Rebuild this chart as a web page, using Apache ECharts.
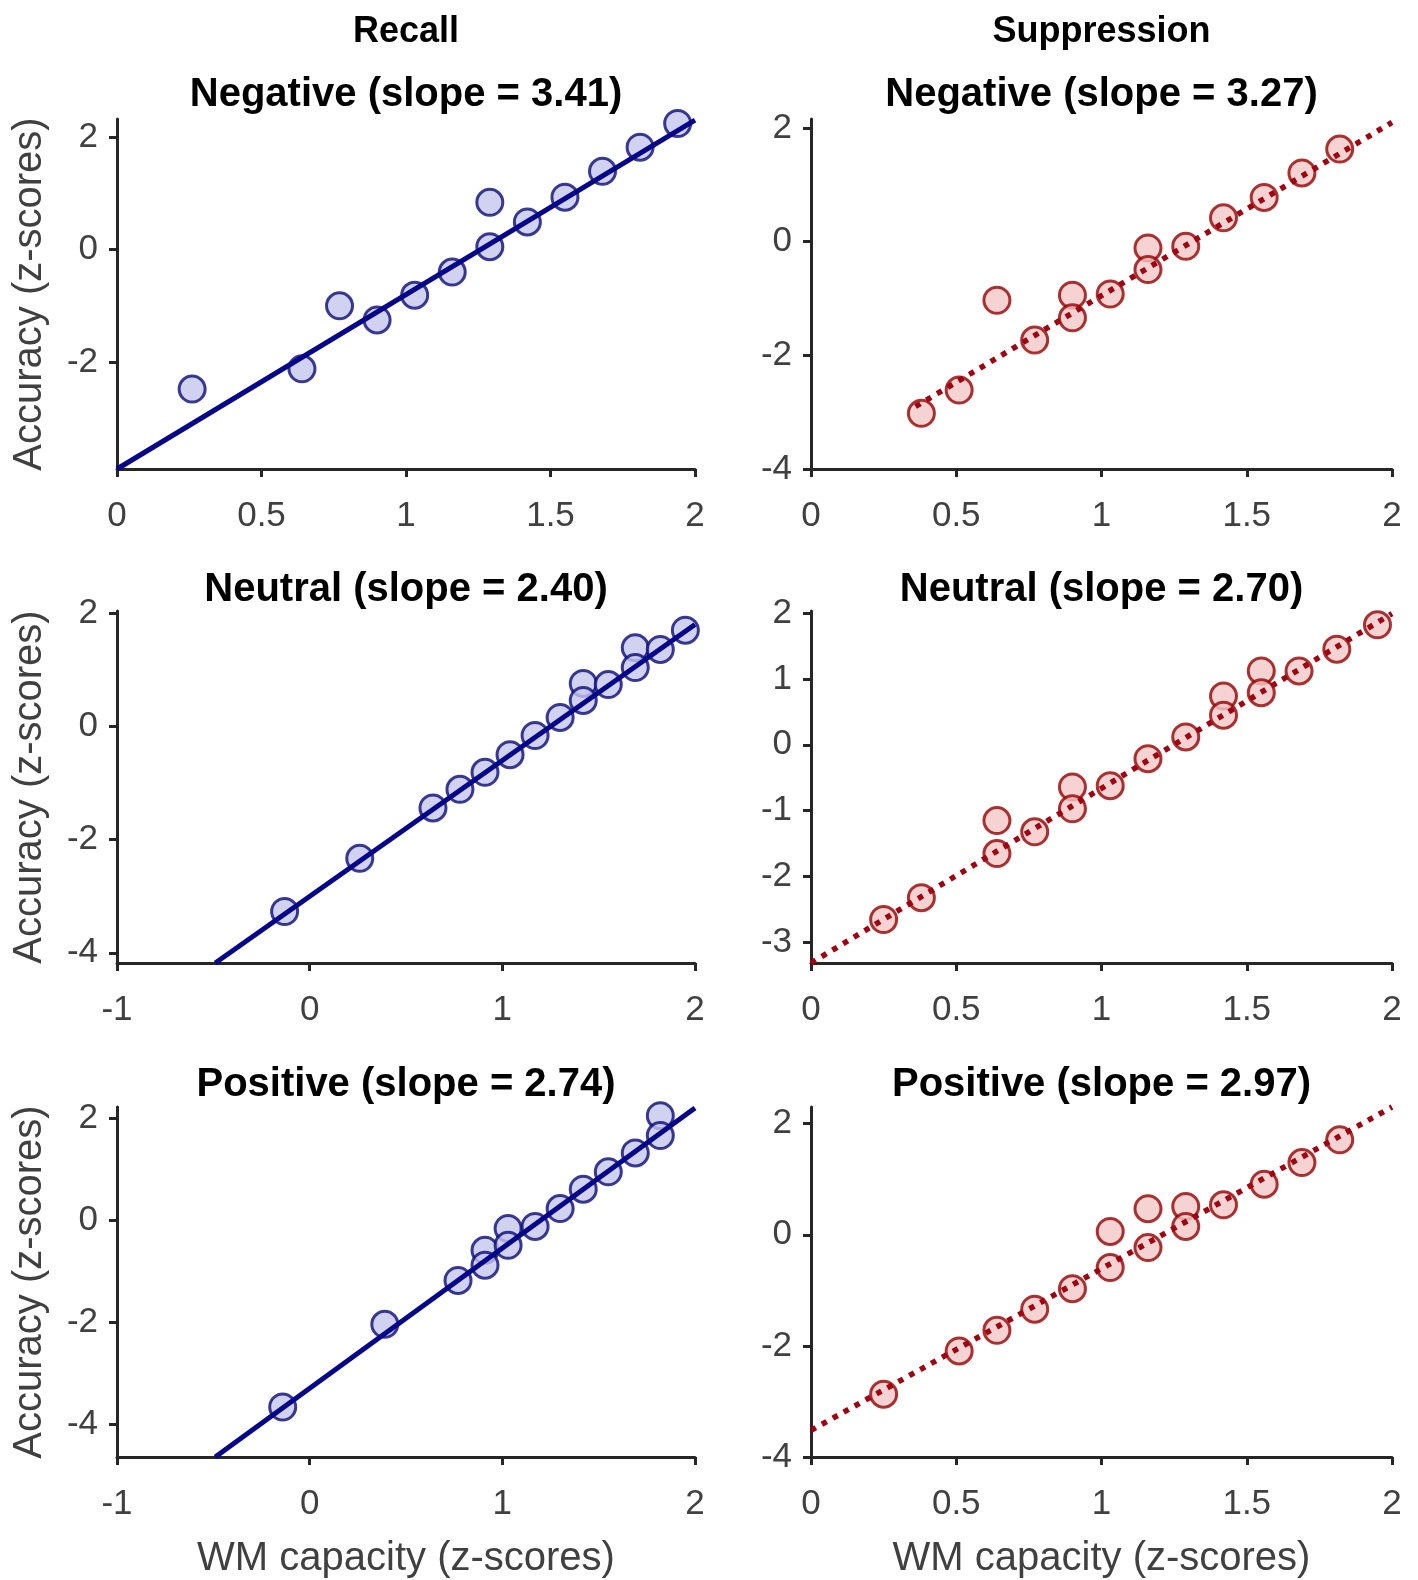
<!DOCTYPE html>
<html>
<head>
<meta charset="utf-8">
<script src="https://cdn.jsdelivr.net/npm/echarts@6/dist/echarts.min.js"></script>
<style>
html,body{margin:0;padding:0;background:#fff;}
#chart{width:1418px;height:1580px;}
</style>
</head>
<body>
<div id="chart"></div>
<script>
// ---------- DATA ----------
const columnHeaders = ['Recall', 'Suppression'];
const panelTitles = [
  'Negative (slope = 3.41)', 'Negative (slope = 3.27)',
  'Neutral (slope = 2.40)', 'Neutral (slope = 2.70)',
  'Positive (slope = 2.74)', 'Positive (slope = 2.97)'
];
const xAxisName = 'WM capacity (z-scores)';
const yAxisName = 'Accuracy (z-scores)';

// Recall - Negative
const recallNegX = [0.26, 0.64, 0.77, 0.90, 1.03, 1.16, 1.29, 1.29, 1.42, 1.55, 1.68, 1.81, 1.94];
const recallNegY = [-2.48, -2.12, -1.00, -1.25, -0.81, -0.40, 0.84, 0.05, 0.49, 0.93, 1.39, 1.82, 2.24];
const recallNegFit = [[0, -3.9], [2, 2.3]];
// Suppression - Negative
const suppNegX = [0.38, 0.51, 0.64, 0.77, 0.90, 0.90, 1.03, 1.16, 1.16, 1.29, 1.42, 1.56, 1.69, 1.82];
const suppNegY = [-3.02, -2.61, -1.03, -1.73, -0.94, -1.34, -0.92, -0.11, -0.49, -0.08, 0.42, 0.78, 1.21, 1.63];
const suppNegFit = [[0.36, -2.9], [2, 2.1]];
// Recall - Neutral
const recallNeuX = [-0.13, 0.26, 0.64, 0.78, 0.91, 1.04, 1.17, 1.30, 1.42, 1.42, 1.55, 1.69, 1.69, 1.82, 1.95];
const recallNeuY = [-3.27, -2.33, -1.44, -1.11, -0.81, -0.50, -0.16, 0.16, 0.76, 0.46, 0.74, 1.39, 1.04, 1.36, 1.70];
const recallNeuFit = [[-0.49, -4.18], [2, 1.8]];
// Suppression - Neutral
const suppNeuX = [0.25, 0.38, 0.64, 0.64, 0.77, 0.90, 0.90, 1.03, 1.16, 1.29, 1.42, 1.42, 1.55, 1.55, 1.68, 1.81, 1.95];
const suppNeuY = [-2.65, -2.32, -1.15, -1.65, -1.32, -0.64, -0.97, -0.62, -0.21, 0.12, 0.74, 0.45, 1.12, 0.79, 1.12, 1.45, 1.82];
const suppNeuFit = [[0, -3.31], [2, 1.99]];
// Recall - Positive
const recallPosX = [-0.14, 0.39, 0.77, 0.91, 0.91, 1.03, 1.03, 1.17, 1.30, 1.42, 1.55, 1.69, 1.82, 1.82];
const recallPosY = [-3.66, -2.04, -1.18, -0.59, -0.88, -0.16, -0.49, -0.12, 0.23, 0.61, 0.95, 1.32, 2.05, 1.66];
const recallPosFit = [[-0.49, -4.64], [2, 2.2]];
// Suppression - Positive
const suppPosX = [0.25, 0.51, 0.64, 0.77, 0.90, 1.03, 1.03, 1.16, 1.16, 1.29, 1.29, 1.42, 1.56, 1.69, 1.82];
const suppPosY = [-2.87, -2.09, -1.72, -1.34, -0.97, 0.06, -0.59, 0.47, -0.23, 0.51, 0.15, 0.54, 0.91, 1.30, 1.71];
const suppPosFit = [[0, -3.52], [2, 2.3]];

// axis ranges and ticks
const xRangeA = [0, 2];   const xTicksA = [0, 0.5, 1, 1.5, 2];
const xRangeB = [-1, 2];  const xTicksB = [-1, 0, 1, 2];
const yRanges = [[-3.9, 2.32], [-4, 2.16], [-4.18, 2.04], [-3.31, 2.03], [-4.64, 2.22], [-4, 2.3]];
const yTicks = [[-2, 0, 2], [-4, -2, 0, 2], [-4, -2, 0, 2], [-3, -2, -1, 0, 1, 2], [-4, -2, 0, 2], [-4, -2, 0, 2]];

// ---------- LAYOUT / STYLE ----------
const FONT = 'Liberation Sans, Arial, Helvetica, sans-serif';
const AXIS_COLOR = '#262626';
const LABEL_COLOR = '#404040';
const colLeft = [117, 811];
const colWidth = [578, 581];
const rowTop = [119, 611, 1107];
const rowHeight = [350, 352, 351];
const titleY = [95, 590, 1085];
const headerY = 32;

const panels = [
  {x: recallNegX, y: recallNegY, fit: recallNegFit, recall: true,  xr: xRangeA, xt: xTicksA},
  {x: suppNegX,   y: suppNegY,   fit: suppNegFit,   recall: false, xr: xRangeA, xt: xTicksA},
  {x: recallNeuX, y: recallNeuY, fit: recallNeuFit, recall: true,  xr: xRangeB, xt: xTicksB},
  {x: suppNeuX,   y: suppNeuY,   fit: suppNeuFit,   recall: false, xr: xRangeA, xt: xTicksA},
  {x: recallPosX, y: recallPosY, fit: recallPosFit, recall: true,  xr: xRangeB, xt: xTicksB},
  {x: suppPosX,   y: suppPosY,   fit: suppPosFit,   recall: false, xr: xRangeA, xt: xTicksA}
];

const grids = [], xAxes = [], yAxes = [], series = [], graphics = [];

columnHeaders.forEach((h, c) => {
  graphics.push({
    type: 'text', x: colLeft[c] + colWidth[c] / 2, y: headerY,
    style: {text: h, font: 'bold 36px ' + FONT, fill: '#000', textAlign: 'center', textVerticalAlign: 'middle'}
  });
});

panels.forEach((p, i) => {
  const row = Math.floor(i / 2), col = i % 2;
  grids.push({left: colLeft[col], top: rowTop[row], width: colWidth[col], height: rowHeight[row], containLabel: false});
  graphics.push({
    type: 'text', x: colLeft[col] + colWidth[col] / 2, y: titleY[row],
    style: {text: panelTitles[i], font: 'bold 40px ' + FONT, fill: '#000', textAlign: 'center', textVerticalAlign: 'middle'}
  });
  xAxes.push({
    type: 'value', gridIndex: i, min: p.xr[0], max: p.xr[1],
    interval: p.xt[1] - p.xt[0],
    splitLine: {show: false},
    axisLine: {show: true, onZero: false, lineStyle: {color: AXIS_COLOR, width: 3}},
    axisTick: {show: true, length: 8, lineStyle: {color: AXIS_COLOR, width: 3}, customValues: p.xt},
    axisLabel: {color: LABEL_COLOR, fontSize: 35, fontFamily: FONT, margin: 30, customValues: p.xt,
      showMinLabel: true, showMaxLabel: true},
    name: row === 2 ? xAxisName : '',
    nameLocation: 'middle', nameGap: 82,
    nameTextStyle: {color: LABEL_COLOR, fontSize: 40, fontFamily: FONT}
  });
  yAxes.push({
    type: 'value', gridIndex: i, min: yRanges[i][0], max: yRanges[i][1],
    splitLine: {show: false},
    axisLine: {show: true, onZero: false, lineStyle: {color: AXIS_COLOR, width: 3}},
    axisTick: {show: true, length: 8, lineStyle: {color: AXIS_COLOR, width: 3}, customValues: yTicks[i]},
    axisLabel: {color: LABEL_COLOR, fontSize: 35, fontFamily: FONT, margin: 19, customValues: yTicks[i]},
    name: col === 0 ? yAxisName : '',
    nameLocation: 'middle', nameGap: 67,
    nameTextStyle: {color: LABEL_COLOR, fontSize: 40, fontFamily: FONT}
  });
  const pts = p.x.map((v, k) => [v, p.y[k]]);
  series.push({
    type: 'scatter', xAxisIndex: i, yAxisIndex: i, data: pts,
    symbol: 'circle', symbolSize: 26, z: 2,
    itemStyle: p.recall
      ? {color: '#c6c6ec', borderColor: '#0a0a78', borderWidth: 3}
      : {color: '#f2c8c8', borderColor: '#960000', borderWidth: 3}
  });
  series.push({
    type: 'line', xAxisIndex: i, yAxisIndex: i, data: p.fit,
    symbol: 'none', clip: false, z: 3,
    lineStyle: p.recall
      ? {color: '#06068a', width: 5, type: 'solid'}
      : {color: '#a0000f', width: 5.5, type: [5.5, 7], cap: 'butt'}
  });
});

const chart = echarts.init(document.getElementById('chart'), null, {renderer: 'canvas'});
chart.setOption({
  animation: false,
  backgroundColor: '#ffffff',
  grid: grids,
  xAxis: xAxes,
  yAxis: yAxes,
  series: series,
  graphic: graphics
});
</script>
</body>
</html>
